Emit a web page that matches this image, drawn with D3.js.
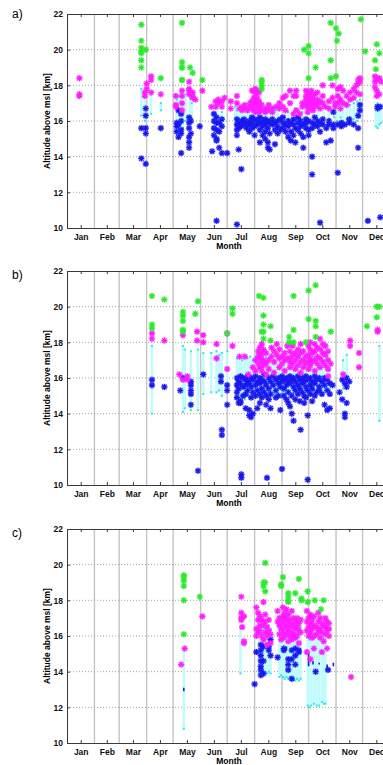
<!DOCTYPE html>
<html>
<head>
<meta charset="utf-8">
<script src="https://cdn.jsdelivr.net/npm/d3@7"></script>
<style>
  body { margin: 0; background: #fff; }
  svg { display: block; }
</style>
</head>
<body>
<svg id="chart" width="383" height="765"></svg>
<script>
// month axis
const monthNames = ["Jan","Feb","Mar","Apr","May","Jun","Jul","Aug","Sep","Oct","Nov","Dec"]
const monthMid = [15.5, 45, 74.5, 105, 135.5, 166, 196.5, 227.5, 258, 288.5, 319, 349.5]
const monthEdge = [31, 59, 90, 120, 151, 181, 212, 243, 273, 304, 334]
const altTicks = [10, 12, 14, 16, 18, 20, 22]

// each row: [day of year, altitude km, altitude km, ...]
const aGreen = [
  [84, 21.4, 20.5, 20.1, 19.9, 19.8, 19.4, 19.0], [89, 20.0], [106, 18.4],
  [130, 21.5, 19.3, 19.0, 19.0, 18.3, 18.3], [139, 19.0], [142, 18.7], [153, 18.3],
  [220, 18.3, 18.2, 18.0, 17.8], [268, 20.0], [273, 20.2, 19.8, 18.4], [281, 19.0],
  [298, 21.5, 19.4, 18.4], [304, 21.2, 18.5], [305, 20.5], [307, 20.9],
  [332, 21.7], [337, 19.9], [348, 19.4], [349, 18.9], [350, 20.3], [353, 19.8]
]
const aMagenta = [
  [14, 18.4, 17.5, 17.4], [88, 17.6, 17.4], [90, 18.1, 17.8], [95, 18.5, 18.3, 17.6], [106, 17.5],
  [123, 17.4, 16.9, 16.8], [130, 17.7, 17.4, 17.0, 16.6], [138, 18.2, 17.8, 17.7, 17.5],
  [142, 17.6, 17.4, 17.3], [145, 17.2], [153, 17.7], [163, 16.8], [168, 17.1, 16.8],
  [171, 17.2, 17.0], [175, 17.1, 16.8], [178, 17.3], [185, 17.1, 16.7], [192, 17.4, 17.0],
  [195, 16.7], [198, 16.8, 16.6], [201, 16.9, 16.7], [204, 16.6], [207, 17.0, 16.8],
  [209, 17.7, 17.1, 16.7], [211, 17.7, 17.3, 17.0, 16.6], [213, 17.8, 17.5, 17.2, 16.9, 16.5],
  [215, 17.7, 17.3, 17.0, 16.7], [217, 17.6, 17.1, 16.8, 16.5], [220, 16.9, 16.6],
  [224, 16.5, 16.7], [228, 16.6, 16.9], [232, 16.7, 16.5], [236, 16.8], [240, 16.7, 17.0],
  [244, 17.3, 16.8], [247, 17.4, 16.6], [252, 17.7, 17.0], [256, 17.4, 16.4],
  [259, 17.7, 17.4, 16.6], [263, 16.4], [266, 16.8, 17.0], [270, 17.7, 17.4, 17.2, 16.9],
  [272, 17.6, 17.3, 17.0, 16.8, 16.5], [274, 17.5, 17.1, 16.9, 16.7], [276, 17.7, 17.4, 17.2, 16.8],
  [278, 17.3, 17.0, 16.6], [280, 17.5, 17.1, 16.8], [283, 17.6, 17.2, 16.9], [286, 17.1, 16.7],
  [289, 18.0, 17.4, 17.0], [292, 16.8], [296, 17.1, 16.7], [300, 18.0, 17.3], [303, 16.8, 17.0],
  [306, 17.8, 17.4, 17.0], [309, 17.9, 17.2, 16.7], [312, 17.7, 17.0], [316, 17.4, 16.9],
  [320, 17.6, 17.2], [324, 17.8, 17.3], [327, 18.0, 17.6], [329, 18.3, 18.1], [331, 18.4, 18.2, 17.5],
  [348, 18.5, 18.2, 17.9], [350, 18.4, 18.3, 17.7, 17.4], [353, 18.4, 17.5], [355, 18.2]
]
const aBlue = [
  [84, 15.6, 13.9], [89, 16.7, 16.3, 15.6, 15.3, 13.6], [106, 15.6],
  [124, 15.9, 15.7, 15.4], [126, 16.6, 15.8, 15.1], [129, 16.4, 16.0, 15.5, 15.3, 14.2],
  [138, 16.2, 15.9, 15.6, 15.1, 14.8, 14.5], [140, 16.0, 15.3], [150, 15.7], [164, 14.3],
  [166, 16.4, 16.0, 15.6, 15.2], [169, 16.2, 15.9, 15.5, 15.0, 14.9, 10.4], [172, 15.9, 15.4, 14.5],
  [175, 16.1, 15.7, 14.2], [181, 14.2], [192, 16.1, 15.8, 15.5, 15.2, 10.2], [194, 15.9, 15.6, 14.4],
  [197, 16.0, 15.7, 13.3], [200, 16.1, 15.9, 15.8], [203, 15.9, 15.6], [206, 16.0, 15.8, 15.4],
  [209, 16.2, 15.9, 15.6], [212, 16.1, 15.7, 15.2], [215, 16.0, 15.8], [218, 16.2, 15.9, 15.5, 14.8],
  [221, 16.0, 15.7, 15.2], [224, 16.1, 15.8, 15.4, 15.0], [227, 16.0, 15.6, 14.8, 14.5],
  [229, 15.9, 15.3, 14.4], [232, 16.1, 15.8], [235, 15.9, 15.5, 14.7], [238, 16.0, 15.7, 15.3],
  [241, 16.1, 15.5], [244, 16.2, 15.9, 15.6], [247, 15.8, 15.4], [250, 16.0, 15.7, 15.1],
  [253, 15.9, 15.4, 14.9], [256, 16.1, 15.8, 15.2], [258, 15.6, 14.8], [261, 16.2, 15.9, 15.5],
  [264, 16.0, 15.7, 15.3], [267, 15.8, 15.1, 14.5], [270, 16.1, 15.9, 15.6], [273, 16.0, 15.5, 15.2],
  [277, 15.9, 15.6, 14.0, 13.0], [280, 16.2, 15.8], [283, 16.0, 15.7], [286, 15.9, 15.4, 10.3],
  [289, 16.1, 15.8], [293, 15.6, 14.8], [296, 16.0, 15.8], [298, 14.9], [301, 16.5, 15.8, 15.6],
  [306, 15.8, 13.1], [310, 15.9, 15.7], [314, 15.8], [319, 16.1, 15.9], [324, 15.8],
  [329, 16.3, 15.6, 14.5], [331, 16.6, 16.9], [340, 10.4], [351, 16.8, 16.7], [354, 16.8, 10.6]
]
// cyan layers: [day, bottom km, top km]
const aCyan = [
  [84, 16.3, 17.8], [88, 16.0, 17.4], [95, 16.4, 17.6], [106, 16.6, 17.0],
  [124, 15.8, 17.2], [126, 15.7, 17.4], [129, 15.9, 17.6], [131, 15.6, 17.0], [134, 16.0, 17.5],
  [139, 16.2, 17.3], [141, 16.1, 17.0], [165, 15.9, 16.4], [170, 15.8, 16.8], [175, 15.8, 16.5],
  [190, 15.8, 16.8], [192, 15.9, 16.6], [194, 15.7, 16.7], [196, 15.8, 16.7], [198, 15.9, 16.6],
  [200, 15.8, 16.6], [202, 15.9, 16.7], [204, 15.8, 16.5], [206, 15.9, 16.7], [208, 15.8, 16.6],
  [210, 15.9, 16.8], [213, 15.8, 16.6], [216, 15.9, 16.7], [219, 15.8, 16.8], [222, 15.9, 16.6],
  [224, 15.8, 16.7], [226, 15.9, 16.7], [228, 15.8, 16.6], [230, 15.9, 16.8], [232, 15.8, 16.6],
  [234, 15.9, 16.7], [236, 15.8, 16.6], [238, 16.0, 16.8], [246, 16.0, 16.6], [250, 16.1, 16.5],
  [258, 16.0, 16.7], [262, 15.9, 16.6], [266, 15.8, 16.5], [272, 15.8, 16.6], [278, 15.9, 16.7],
  [284, 16.0, 16.8], [290, 15.9, 16.9], [296, 16.1, 16.8], [302, 16.2, 16.9], [305, 16.0, 17.0],
  [309, 16.2, 16.9], [312, 16.0, 17.0], [316, 16.1, 17.0], [320, 16.0, 16.9], [324, 16.1, 17.0],
  [328, 16.0, 17.1], [331, 16.2, 17.2], [349, 15.7, 16.9], [351, 15.6, 17.0], [353, 15.8, 16.8],
  [355, 15.9, 16.7]
]

const bGreen = [
  [96, 20.6, 19.0, 18.8], [110, 20.4], [131, 19.7, 19.5, 19.2, 18.7, 18.6], [145, 19.6], [148, 20.3],
  [181, 18.5], [187, 19.9, 19.6], [217, 20.6], [220, 18.6], [222, 20.5, 19.5, 19.0, 18.6, 18.2],
  [230, 18.9, 18.1], [251, 18.3, 18.0], [256, 20.6, 18.7, 18.0], [270, 18.0], [273, 20.9, 19.3],
  [281, 21.2, 19.2, 18.9, 18.3], [298, 18.6], [339, 18.9], [350, 20.0, 19.4], [353, 20.0]
]
const bMagenta = [
  [96, 18.5, 18.2], [110, 18.1], [127, 16.2], [131, 18.4, 15.9], [136, 16.1, 15.9],
  [147, 18.6, 18.1], [154, 18.4, 18.0], [169, 17.9, 17.1], [181, 18.5, 16.5], [187, 17.8],
  [195, 17.2], [201, 17.2], [205, 16.2], [210, 16.6], [213, 17.0, 16.4], [216, 17.5, 17.2, 16.8],
  [218, 17.7, 17.4, 17.1, 16.6], [220, 17.9, 17.3, 16.9, 16.4], [222, 17.6, 17.0, 16.7],
  [225, 17.4, 16.8, 16.2], [228, 17.0, 16.5], [231, 17.7, 17.2], [234, 17.5, 16.9, 16.3],
  [237, 17.9, 17.3], [240, 17.6, 17.1, 16.6], [243, 17.2, 16.8], [246, 17.4, 17.0, 16.4],
  [249, 17.8, 17.1], [252, 17.9, 17.5, 17.1, 16.9, 16.6], [255, 17.8, 17.3, 16.8],
  [258, 17.4, 17.0, 16.5], [261, 17.6, 17.2, 16.7], [264, 17.9, 17.4, 16.9, 16.3],
  [267, 17.5, 17.0, 16.6], [270, 17.2, 16.8], [273, 17.8, 17.3, 16.9, 16.5],
  [275, 18.0, 17.6, 17.1, 16.7], [277, 17.4, 16.9], [280, 17.9, 17.5, 17.0, 16.4],
  [283, 17.7, 17.2, 16.8], [286, 18.2, 17.6, 17.1, 16.6], [289, 17.9, 17.4, 16.9],
  [292, 17.8, 17.3, 16.7], [295, 17.5, 17.0, 16.5, 16.1], [298, 16.8], [312, 16.2],
  [320, 18.1, 17.8], [330, 17.4, 16.6], [351, 18.7, 18.6]
]
const bBlue = [
  [96, 15.9, 15.6], [110, 15.5], [128, 15.3], [131, 16.0], [140, 15.8, 15.6, 15.3, 15.1, 14.5],
  [148, 10.8], [154, 16.2], [174, 16.1, 15.8], [175, 13.1, 12.8], [181, 15.6, 15.3, 14.5],
  [192, 16.0, 15.6, 15.2, 14.9], [194, 15.8, 15.4, 14.6], [196, 16.1, 15.7, 14.7, 14.6],
  [197, 10.6, 10.4], [199, 16.0, 15.5, 15.0], [202, 15.9, 15.6, 15.1, 14.3], [204, 16.1, 15.8, 15.3],
  [206, 15.7, 14.2, 13.9], [208, 16.0, 15.5, 14.9, 13.8], [210, 15.9, 15.2, 14.0],
  [213, 16.1, 15.6, 15.0], [215, 15.8, 15.3, 14.3], [218, 16.0, 15.7, 15.1, 14.6],
  [220, 15.9, 15.4, 14.9], [223, 16.2, 15.8, 15.2], [225, 15.6, 15.0, 14.5], [226, 10.4],
  [228, 16.0, 15.4, 14.8], [230, 15.8, 15.1, 14.3], [233, 16.1, 15.6], [236, 15.9, 15.3, 14.9],
  [239, 16.0, 15.7, 15.0], [241, 15.5, 14.2], [243, 16.1, 15.8, 10.9], [245, 15.9, 15.4, 15.0],
  [248, 16.0, 15.6, 14.8], [250, 15.8, 15.2, 14.6], [252, 16.1, 15.7, 14.4], [254, 15.9, 15.0, 14.0],
  [256, 16.0, 15.5, 13.6], [258, 15.8, 15.3, 14.8], [261, 16.1, 15.6, 15.1], [263, 15.9, 15.4, 14.7],
  [264, 13.1], [266, 16.0, 15.7, 15.2], [268, 15.8, 15.0, 14.6], [270, 16.1, 15.5, 14.9],
  [272, 15.9, 15.3, 13.9, 10.3], [275, 16.0, 15.6, 15.1], [277, 15.8, 15.4, 14.7],
  [280, 16.1, 15.7, 15.0], [282, 15.9, 15.2], [285, 16.0, 15.5, 15.3], [288, 15.8, 15.1],
  [291, 16.0, 15.6, 14.5], [294, 15.9, 15.3, 14.2], [297, 15.7, 15.1, 14.3], [300, 15.6],
  [308, 15.2], [311, 15.9, 14.8], [314, 15.7, 14.0, 13.8], [316, 16.0, 15.5, 14.6], [319, 15.8]
]
const bCyan = [
  [96, 14.0, 17.8], [131, 14.1, 17.8], [133, 14.3, 17.6], [140, 14.2, 17.5], [148, 14.2, 17.6],
  [154, 15.1, 17.4], [163, 15.2, 17.4], [169, 15.2, 17.5], [172, 15.3, 17.3], [175, 15.0, 17.4],
  [181, 15.5, 17.5], [192, 14.9, 17.1], [195, 14.8, 17.2], [198, 14.9, 17.0], [201, 14.8, 17.2],
  [204, 15.0, 17.1], [207, 14.9, 17.2], [210, 15.1, 17.0], [213, 15.0, 17.2], [216, 15.1, 17.1],
  [219, 15.0, 17.2], [222, 15.2, 17.0], [225, 15.1, 17.2], [228, 15.0, 17.1], [231, 15.2, 17.2],
  [234, 15.1, 17.0], [237, 15.2, 17.2], [240, 15.0, 17.1], [243, 15.2, 17.2], [246, 15.1, 17.0],
  [249, 15.3, 17.2], [252, 15.2, 17.1], [255, 15.1, 17.2], [258, 15.3, 17.0], [261, 15.2, 17.2],
  [264, 15.3, 17.1], [267, 15.2, 17.2], [270, 15.3, 17.0], [273, 15.2, 17.2], [276, 15.3, 17.1],
  [279, 15.3, 17.2], [282, 15.2, 17.0], [285, 15.3, 17.2], [288, 15.4, 17.1], [291, 15.3, 17.0],
  [294, 15.4, 17.2], [297, 15.3, 17.0], [312, 15.4, 17.0], [316, 15.6, 17.3], [353, 13.6, 17.8]
]

const cGreen = [
  [132, 19.4, 19.3, 19.1, 18.8, 18.0, 16.1], [150, 18.2], [222, 19.0, 18.8], [224, 20.1, 19.0, 18.5],
  [242, 18.9, 18.8], [244, 19.3], [250, 18.4, 18.2, 18.0, 17.9], [258, 18.4], [262, 19.2],
  [265, 18.1, 18.0], [272, 18.5, 17.9], [280, 18.0], [287, 17.5], [290, 18.0]
]
const cMagenta = [
  [129, 14.4], [133, 15.3], [153, 17.1], [197, 18.2, 17.3, 17.0, 16.9], [198, 16.5],
  [200, 17.1, 15.7, 15.6], [214, 17.6, 16.4, 16.0], [216, 17.3, 16.9, 16.2], [218, 17.1, 16.6, 16.3],
  [220, 16.9, 16.0], [222, 17.9, 16.6, 15.8], [224, 17.2, 16.8, 16.2], [226, 16.5, 16.0, 15.5],
  [228, 16.9, 16.3], [230, 16.1, 15.6], [238, 17.4, 16.8], [240, 17.0, 16.6, 16.1],
  [242, 16.9, 16.4, 15.8], [244, 17.6, 17.1, 16.7, 16.2, 15.9], [246, 17.3, 16.9, 16.5, 16.0],
  [248, 17.5, 17.0, 16.6, 16.1], [250, 17.2, 16.8, 16.3, 15.7], [252, 16.9, 16.5, 16.0],
  [254, 17.4, 16.7, 16.2, 15.8], [256, 17.0, 16.6, 16.1], [258, 16.8, 16.4, 15.9],
  [260, 17.0, 16.5, 16.0], [262, 16.7, 16.3, 15.6], [264, 16.9, 16.2],
  [271, 17.4, 16.8, 16.3, 15.1], [273, 17.0, 16.5, 16.0], [275, 17.2, 16.7, 16.2, 14.7],
  [277, 16.9, 16.4, 15.9], [279, 17.1, 16.6, 16.0, 15.3], [282, 16.5, 16.1], [284, 17.3, 16.8, 16.3],
  [286, 17.0, 16.4, 15.9], [288, 16.7, 16.2, 15.1], [290, 16.6, 15.7], [292, 17.0, 16.5, 16.1],
  [294, 16.8, 16.3, 15.3], [296, 16.7, 16.4, 16.0], [321, 13.7]
]
const cBlue = [
  [212, 13.3], [214, 15.1], [219, 15.5, 15.2, 14.9, 14.6, 14.3, 14.1, 13.8], [222, 15.4, 14.6, 13.9],
  [228, 15.4, 15.2], [230, 15.8, 14.9], [238, 14.8], [245, 15.3, 15.2], [250, 14.7, 14.4, 14.1],
  [254, 15.2, 14.7, 13.6], [258, 15.3, 14.9, 14.4], [262, 15.2, 15.1], [281, 14.0], [295, 14.1]
]
// short blue line pieces: [day, bottom km, top km]
const cBlueLines = [
  [132, 12.9, 13.1], [248, 15.2, 15.4], [256, 15.2, 15.3], [273, 14.3, 15.1],
  [278, 14.4, 14.6], [285, 14.4, 14.5], [294, 14.2, 14.4], [301, 14.3, 14.5]
]
const cCyan = [
  [132, 10.8, 15.2], [196, 13.9, 16.5], [217, 13.9, 16.4], [219, 13.8, 16.5], [221, 13.9, 16.6],
  [223, 13.8, 16.4], [226, 13.9, 16.5], [228, 14.0, 16.6], [230, 13.9, 16.4], [240, 13.7, 16.5],
  [242, 13.8, 16.6], [244, 13.7, 16.4], [246, 13.6, 16.5], [248, 13.7, 16.6], [250, 13.6, 16.4],
  [252, 13.7, 16.5], [254, 13.5, 16.6], [256, 13.6, 16.4], [258, 13.5, 16.5], [260, 13.6, 16.6],
  [262, 13.5, 16.4], [264, 13.6, 16.5], [272, 12.1, 16.0], [274, 12.0, 15.8], [276, 12.1, 16.1],
  [279, 12.2, 15.9], [282, 12.1, 16.0], [285, 12.1, 16.2], [288, 12.3, 16.0], [290, 12.2, 15.9],
  [292, 12.2, 16.1]
]

const panels = [
  {label: "a)", top: 14, bottom: 228, labelY: 18, green: aGreen, magenta: aMagenta, blue: aBlue, cyan: aCyan, blueLines: []},
  {label: "b)", top: 271, bottom: 485, labelY: 279, green: bGreen, magenta: bMagenta, blue: bBlue, cyan: bCyan, blueLines: []},
  {label: "c)", top: 529, bottom: 743, labelY: 537, green: cGreen, magenta: cMagenta, blue: cBlue, cyan: cCyan, blueLines: cBlueLines}
]

const svg = d3.select("#chart")
const font = "'Liberation Sans', Arial, sans-serif"

// flatten [day, a1, a2..] rows into points
function pts(rows) {
  return rows.flatMap(r => r.slice(1).map(a => ({day: r[0], alt: a})))
}

function starPath(r) {
  let d = r * 0.72
  return `M${-r},0L${r},0M0,${-r}L0,${r}M${-d},${-d}L${d},${d}M${-d},${d}L${d},${-d}`
}

function drawPanel(p) {
  let x = d3.scaleLinear().domain([0, 365]).range([67, 390])
  let y = d3.scaleLinear().domain([10, 22]).range([p.bottom, p.top])
  let g = svg.append("g")

  // month grid
  g.append("g").selectAll("line")
    .data(monthEdge)
    .join("line")
    .attr("x1", d => x(d)).attr("x2", d => x(d))
    .attr("y1", p.top).attr("y2", p.bottom)
    .attr("stroke", "#c4c4c4")
    .attr("stroke-width", 1.4)

  // dotted altitude grid
  g.append("g").selectAll("line")
    .data(altTicks.slice(1, -1))
    .join("line")
    .attr("x1", 67).attr("x2", 390)
    .attr("y1", d => y(d)).attr("y2", d => y(d))
    .attr("stroke", "#8a8a8a")
    .attr("stroke-width", 0.8)
    .attr("stroke-dasharray", "1,2")

  // cyan layers
  g.append("g").selectAll("line")
    .data(p.cyan)
    .join("line")
    .attr("x1", d => x(d[0])).attr("x2", d => x(d[0]))
    .attr("y1", d => y(d[1])).attr("y2", d => y(d[2]))
    .attr("stroke", "#c2fbfb")
    .attr("stroke-width", 2.6)
  g.append("g").selectAll("rect")
    .data(p.cyan.flatMap(d => [[d[0], d[1]], [d[0], d[2]]]))
    .join("rect")
    .attr("x", d => x(d[0]) - 1).attr("y", d => y(d[1]) - 1)
    .attr("width", 2).attr("height", 2)
    .attr("fill", "#2ee6ee")

  g.append("g").selectAll("line")
    .data(p.blueLines)
    .join("line")
    .attr("x1", d => x(d[0])).attr("x2", d => x(d[0]))
    .attr("y1", d => y(d[1])).attr("y2", d => y(d[2]))
    .attr("stroke", "#1a1ae0")
    .attr("stroke-width", 1.6)

  let series = [
    {data: p.blue, color: "#1818ee"},
    {data: p.magenta, color: "#ff1cff"},
    {data: p.green, color: "#2bea2b"}
  ]
  series.forEach(s => {
    let sg = g.append("g")
    sg.selectAll("circle")
      .data(pts(s.data))
      .join("circle")
      .attr("cx", d => x(d.day)).attr("cy", d => y(d.alt))
      .attr("r", 3.3)
      .attr("fill", s.color)
      .attr("fill-opacity", 0.28)
    sg.selectAll("path")
      .data(pts(s.data))
      .join("path")
      .attr("transform", d => `translate(${x(d.day)},${y(d.alt)})`)
      .attr("d", starPath(3))
      .attr("stroke", s.color)
      .attr("stroke-width", 1.2)
      .attr("fill", "none")
  })

  // axes
  let left = g.append("g")
    .attr("transform", "translate(67,0)")
    .call(d3.axisLeft(y).tickValues(altTicks).tickSizeInner(-3).tickSizeOuter(0).tickPadding(4))
  let bottom = g.append("g")
    .attr("transform", `translate(0,${p.bottom})`)
    .call(d3.axisBottom(x).tickValues(monthMid).tickFormat((d, i) => monthNames[i])
      .tickSizeInner(-3).tickSizeOuter(0).tickPadding(6))
  let top = g.append("g")
    .attr("transform", `translate(0,${p.top})`)
    .call(d3.axisTop(x).tickValues(monthMid).tickFormat("").tickSizeInner(-3).tickSizeOuter(0))
  ;[left, bottom, top].forEach(a => {
    a.selectAll(".domain").attr("stroke", "#3a3a3a").attr("stroke-width", 1)
    a.selectAll(".tick line").attr("stroke", "#3a3a3a")
    a.selectAll("text")
      .attr("font-family", font)
      .attr("font-size", 8.5)
      .attr("font-weight", "bold")
      .attr("fill", "#111")
  })

  g.append("text")
    .attr("transform", `translate(50,${(p.top + p.bottom) / 2}) rotate(-90)`)
    .attr("text-anchor", "middle")
    .attr("font-family", font)
    .attr("font-size", 8.5)
    .attr("font-weight", "bold")
    .text("Altitude above msl [km]")

  g.append("text")
    .attr("x", 229).attr("y", p.bottom + 21)
    .attr("text-anchor", "middle")
    .attr("font-family", font)
    .attr("font-size", 8.5)
    .attr("font-weight", "bold")
    .text("Month")

  g.append("text")
    .attr("x", 12).attr("y", p.labelY)
    .attr("font-family", font)
    .attr("font-size", 12)
    .text(p.label)
}

panels.forEach(drawPanel)
</script>
</body>
</html>
